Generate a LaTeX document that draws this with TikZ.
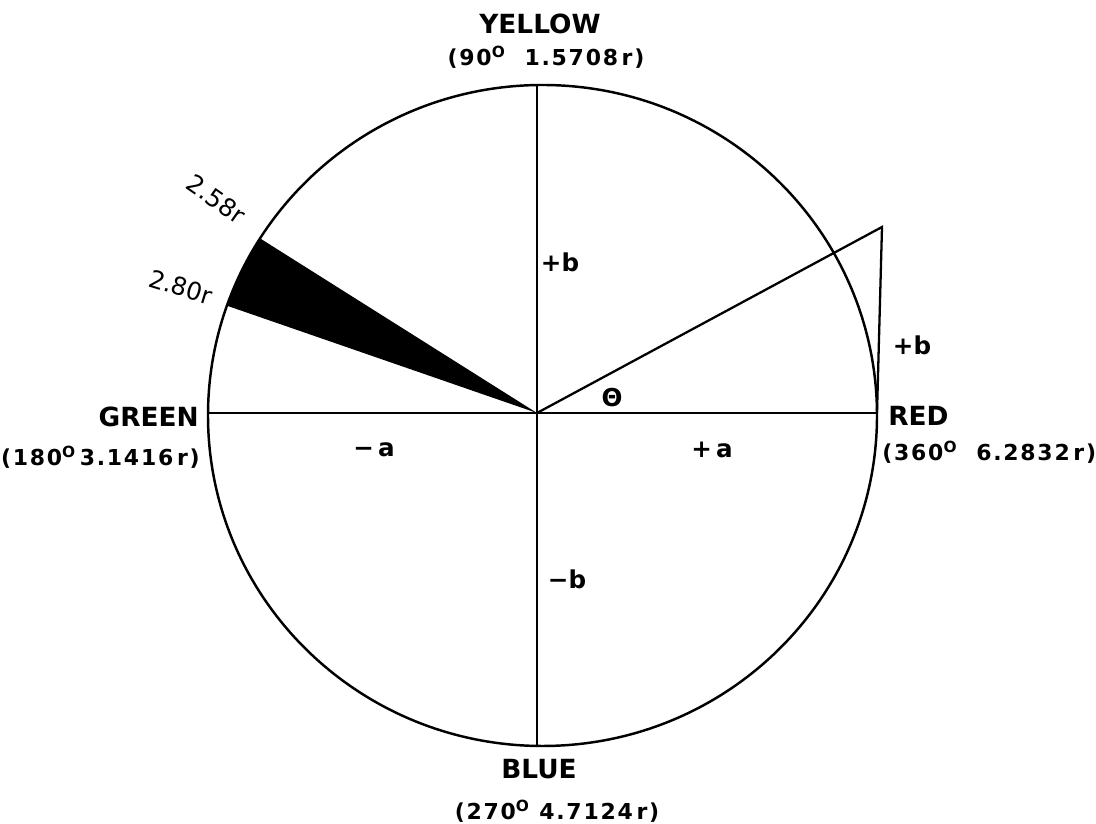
\documentclass[tikz,border=0pt]{standalone}
\usepackage{fontspec}
\setmainfont{DejaVu Sans}
\newfontfamily\widefont[LetterSpace=8]{DejaVu Sans}
\usetikzlibrary{calc}
\tikzset{
  rim/.style={draw=black,line width=1.4pt},              % hue circle
  axis/.style={draw=black,line width=1.3pt},             % a/b axes
  sector/.style={fill=black},                            % hue band
  hname/.style={font=\fontsize{15}{17}\selectfont\bfseries,inner sep=0pt},
  hval/.style={font=\widefont\fontsize{12.5}{14}\selectfont\bfseries,inner sep=0pt},
  ablabel/.style={font=\fontsize{14}{16}\selectfont\bfseries,inner sep=0pt},
  tick/.style={font=\fontsize{14}{16}\selectfont,inner sep=0pt},
}
\newcommand{\degO}{\textsuperscript{O}}

\begin{document}
\begin{tikzpicture}[x=0.02cm,y=0.02cm]
  \useasboundingbox (0,0) rectangle (1096,824);
  \coordinate (C) at (542.5,408.5);
  \coordinate (O) at (537,411);
  \coordinate (R) at (877,411);
  \coordinate (G) at (208,411);
  \coordinate (Y) at (537,739);
  \coordinate (B) at (537,78);
  \coordinate (P) at (882,597);
  % band between 2.58r and 2.80r
  \fill[sector] (O) -- ($(C)+(147.6:334.5 and 330.5)$)
    arc[start angle=147.6,end angle=160.6,x radius=334.5,y radius=330.5] -- cycle;
  \draw[rim] (C) ellipse[x radius=334.5,y radius=330.5];
  \draw[axis] (G) -- (R);
  \draw[axis] (Y) -- (B);
  \draw[axis] (O) -- (P) -- (R);
  % hue names
  \node[hname] (yel) at (540,800) {YELLOW};
  \node[hval] (yelv) at (546,767) {(90\degO\ \ 1.5708\,r)};
  \node[hname,anchor=east] (grn) at (199,407) {GREEN};
  \node[hval,anchor=east] (grnv) at (200,367) {(180\degO\,3.1416\,r)};
  \node[hname,anchor=west] (red) at (888,408) {RED};
  \node[hval,anchor=west] (redv) at (882,372) {(360\degO\ \ 6.2832\,r)};
  \node[hname] (blu) at (539,55) {BLUE};
  \node[hval] (bluv) at (557,13) {(270\degO\ 4.7124\,r)};
  % axis labels
  \node[ablabel] (pb) at (560,562) {+b};
  \node[ablabel] (mb) at (567,245) {−b};
  \node[ablabel] (ma) at (374,374) {−\,a};
  \node[ablabel] (pa) at (712,374) {+\,a};
  \node[ablabel] (pb2) at (912,479) {+b};
  \node[ablabel] (th) at (612,426) {Θ};
  \node[tick,rotate=-35] (t1) at (216,625) {2.58r};
  \node[tick,rotate=-17] (t2) at (181,537) {2.80r};
\end{tikzpicture}
\end{document}
